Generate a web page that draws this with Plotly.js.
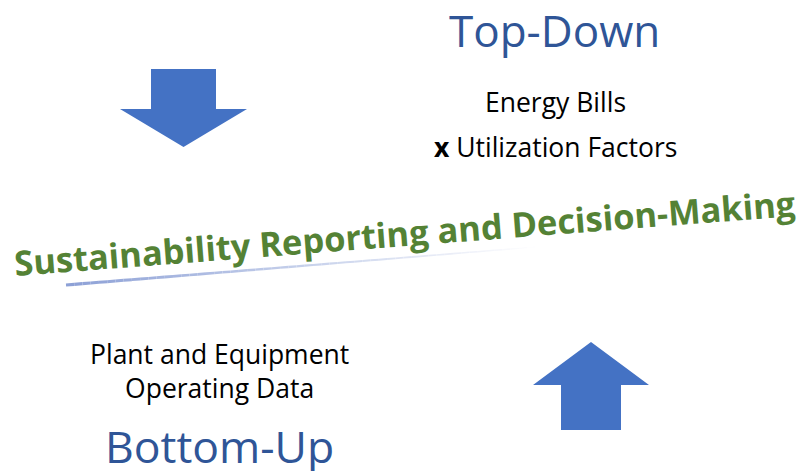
<!DOCTYPE html>
<html><head><meta charset="utf-8">
<script src="https://cdn.plot.ly/plotly-3.0.1.min.js"></script>
<style>html,body{margin:0;padding:0;background:#fff;}#chart{width:801px;height:471px;}</style>
</head><body><div id="chart"></div>
<script>
// Text content of the diagram
const topTitle = "Top-Down";
const topLines = ["Energy Bills", "<b>x</b> Utilization Factors"];
const centerTitle = "Sustainability Reporting and Decision-Making";
const bottomLines = ["Plant and Equipment", "Operating Data"];
const bottomTitle = "Bottom-Up";

const FONT = "'Open Sans', sans-serif";
const BLUE_TXT = "#2F5597";
const ARROW = "#4472C4";
const GREEN = "#548235";

// geometry (pixel space: x 0..801, y 0..471 top-down)
const downArrow = "M151,69 L216,69 L216,109 L247,109 L183.5,147 L120,109 L151,109 Z";
const upArrow = "M591,342 L649,385 L621,385 L621,430 L561,430 L561,385 L533,385 Z";

const shapes = [
  {type:"path", path:downArrow, fillcolor:ARROW, line:{width:0}, xref:"x", yref:"y"},
  {type:"path", path:upArrow, fillcolor:ARROW, line:{width:0}, xref:"x", yref:"y"}
];
// gradient underline fading to white
const x0=66,y0=285,x1=560,y1=245,N=60;
const c0=[140,160,214];
for(let i=0;i<N;i++){
  const t0=i/N,t1=(i+1)/N,tm=(i+0.5)/N;
  const f=Math.min(1,tm*1.05);
  const col=c0.map(c=>Math.round(c+(255-c)*f));
  shapes.push({type:"line",xref:"x",yref:"y",
    x0:x0+(x1-x0)*t0,y0:y0+(y1-y0)*t0,x1:x0+(x1-x0)*t1,y1:y0+(y1-y0)*t1,
    line:{color:`rgb(${col.join(",")})`,width:3.2-2*tm}});
}

const annotations = [
  {x:554.5,y:29.5,text:topTitle,font:{family:FONT,size:44,color:BLUE_TXT}},
  {x:555.5,y:101.7,text:topLines[0],font:{family:FONT,size:26.5,color:"#000"}},
  {x:555.5,y:146.7,text:topLines[1],font:{family:FONT,size:26.5,color:"#000"}},
  {x:405,y:232,text:"<b>"+centerTitle+"</b>",textangle:-4.4,font:{family:FONT,size:34.5,color:GREEN}},
  {x:219,y:371,text:bottomLines.join("<br>"),font:{family:FONT,size:26.5,color:"#000"}},
  {x:219,y:445.5,text:bottomTitle,font:{family:FONT,size:44.5,color:BLUE_TXT}}
].map(a=>Object.assign({xref:"x",yref:"y",showarrow:false,xanchor:"center",yanchor:"middle"},a));

const layout = {
  width:801,height:471,margin:{l:0,r:0,t:0,b:0},
  paper_bgcolor:"#fff",plot_bgcolor:"#fff",showlegend:false,
  xaxis:{range:[0,801],visible:false,fixedrange:true},
  yaxis:{range:[471,0],visible:false,fixedrange:true},
  shapes:shapes,annotations:annotations
};
Plotly.newPlot("chart",[{x:[],y:[],type:"scatter",mode:"markers"}],layout,{staticPlot:true,displayModeBar:false});
</script></body></html>
